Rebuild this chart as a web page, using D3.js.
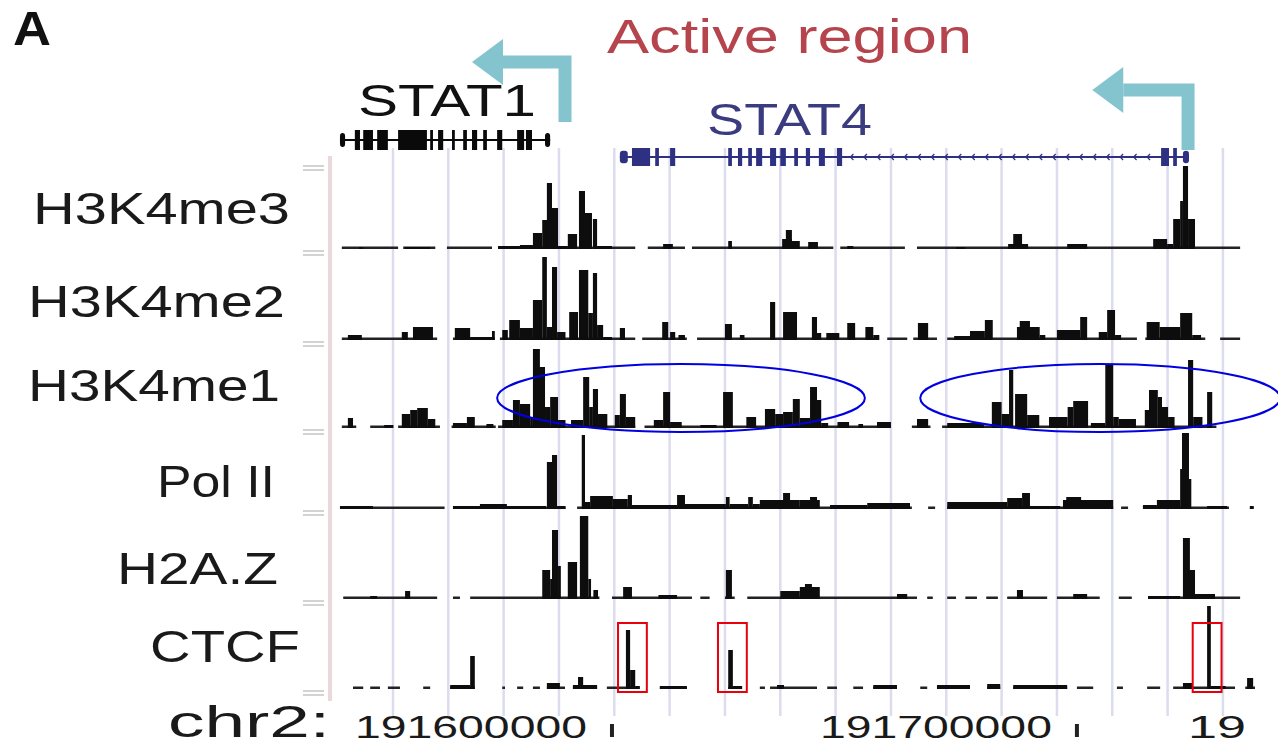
<!DOCTYPE html>
<html>
<head>
<meta charset="utf-8">
<script src="https://cdn.jsdelivr.net/npm/d3@7"></script>
<style>
  html, body { margin: 0; padding: 0; background: #fff; }
  svg { display: block; font-family: "Liberation Sans", Arial, Helvetica, sans-serif; }
</style>
</head>
<body>
<svg id="chart" width="1278" height="747"></svg>
<script>
// positions are kb past chr2:191,000,000

const trackNames = ["H3K4me3", "H3K4me2", "H3K4me1", "Pol II", "H2A.Z", "CTCF"];

// [start kb, end kb, signal]
const h3k4me3Bars = [
  [545.6,546.5,2],[555.5,560.9,2],[575.5,580.2,3],[580.2,583.0,4],[583.0,585.0,16],[585.0,586.2,29],
  [586.0,587.1,66],[587.1,588.4,41],[588.4,590.5,3],[590.5,592.5,15],[592.9,594.2,58],[594.2,595.7,36],
  [595.9,596.8,30],[596.8,600.0,3],[611.0,613.1,5],[625.0,625.8,8],[636.6,638.7,10],[637.4,638.7,19],
  [638.7,640.4,8],[642.2,644.3,7],[650.6,651.9,3],[674.0,676.0,2],[685.2,689.5,5],[686.3,688.2,15],
  [697.9,702.2,5],[716.4,719.4,10],[719.4,720.7,5],[720.7,722.2,30],[722.2,722.8,48],[722.8,723.9,83],
  [723.9,725.4,30]
];
const h3k4me2Bars = [
  [543.2,546.2,5],[554.8,556.1,8],[557.2,561.5,13],[566.2,569.5,12],[569.5,574.2,3],[574.2,574.8,9],
  [576.4,577.6,10],[577.9,580.2,20],[580.2,583.0,12],[583.0,585.0,40],[585.0,586.0,83],[586.0,587.1,13],
  [587.1,588.2,73],[588.2,590.0,8],[590.8,592.7,28],[592.9,594.9,70],[594.9,595.9,27],[595.9,596.8,67],
  [596.8,598.1,15],[598.1,600.0,3],[601.7,602.8,12],[610.8,612.1,18],[612.5,613.6,8],[614.3,615.7,5],
  [624.3,625.8,16],[627.5,628.5,5],[634.0,635.1,38],[636.8,639.8,28],[643.0,644.1,23],[644.1,645.0,7],
  [646.1,648.9,7],[650.6,652.3,17],[654.5,656.2,13],[656.2,657.5,5],[665.8,668.0,17],[673.6,677.0,4],
  [677.0,680.2,9],[680.2,681.9,20],[687.1,692.0,13],[687.7,689.9,19],[692.0,693.2,5],[695.7,700.7,10],
  [700.7,702.2,23],[704.7,706.5,8],[706.5,708.2,30],[708.2,709.5,5],[715.0,717.8,18],[717.8,722.2,13],
  [722.2,724.8,27],[724.8,726.7,5]
];
const h3k4me1Bars = [
  [543.2,544.3,10],[551.0,553.0,3],[554.8,556.6,14],[556.6,558.1,18],[558.1,560.4,20],[560.4,562.0,9],
  [565.8,568.8,5],[568.8,570.5,11],[573.0,574.5,4],[576.4,578.7,8],[578.7,580.2,28],[580.2,582.4,24],
  [582.4,583.0,10],[583.0,584.5,79],[584.1,585.6,61],[585.6,586.7,21],[586.7,588.4,31],[588.4,590.0,8],
  [591.2,593.8,8],[593.8,595.1,51],[595.1,595.9,21],[595.9,597.0,39],[597.0,599.0,14],[600.6,601.7,13],
  [601.7,603.0,34],[603.0,605.0,11],[609.0,611.0,8],[611.0,612.5,36],[612.5,615.0,6],[619.0,622.5,3],
  [623.9,626.0,36],[628.9,631.0,11],[632.9,635.1,19],[635.1,636.8,14],[636.8,638.9,16],[638.9,640.4,29],
  [640.4,642.6,10],[642.6,644.1,41],[644.1,645.0,28],[645.0,646.5,5],[648.5,651.0,6],[653.0,654.0,4],
  [657.0,660.0,6],[665.6,668.0,9],[672.1,680.0,5],[681.7,683.8,26],[683.8,685.4,14],[685.4,686.3,58],
  [686.7,689.3,34],[689.3,691.9,13],[694.0,698.0,11],[698.0,699.2,21],[699.2,702.4,27],[703.0,706.1,5],
  [706.1,707.8,64],[707.8,709.0,11],[709.0,712.7,9],[714.6,715.5,18],[715.5,717.4,38],[717.4,718.3,31],
  [718.3,719.6,21],[719.6,721.0,11],[723.9,725.0,68],[725.0,727.0,11],[728.0,729.1,36]
];
const polIIBars = [
  [541.5,548.6,3],[565.8,585.8,3],[571.6,577.4,5],[586.0,587.3,47],[587.1,588.2,54],[588.2,590.0,3],
  [593.5,594.2,74],[594.2,595.3,7],[595.3,600.2,13],[600.2,603.4,10],[603.4,604.3,14],[604.3,614.0,4],
  [614.0,615.7,14],[615.7,624.5,5],[624.5,625.3,12],[625.3,629.3,5],[629.3,630.3,12],[630.3,631.8,5],
  [631.8,640.4,9],[636.8,638.3,16],[640.4,644.7,9],[642.6,644.1,12],[646.9,654.9,4],[654.9,664.1,6],
  [672.1,685.0,7],[685.0,688.2,11],[688.2,689.9,16],[689.9,696.4,3],[697.0,707.8,9],[697.7,700.9,12],
  [714.2,717.2,4],[717.2,722.2,9],[722.2,722.6,40],[722.6,724.1,76],[724.1,724.6,30],[728.0,732.3,3],
  [737.2,738.0,3]
];
const h2azBars = [
  [548.0,549.5,3],[555.5,556.6,8],[585.0,586.7,29],[586.7,587.1,20],[587.1,588.4,69],[588.4,589.0,33],
  [590.5,592.5,37],[593.1,594.9,83],[594.9,595.5,20],[596.0,597.0,9],[602.4,604.3,12],[610.0,614.0,4],
  [624.5,625.8,29],[636.2,640.4,8],[640.4,644.7,12],[641.5,643.0,15],[661.3,663.5,5],[687.1,688.4,9],
  [699.2,702.2,5],[715.3,722.2,3],[722.8,724.3,61],[723.9,725.4,29],[725.4,729.7,5]
];
const ctcfBars = [
  [565.2,569.5,4],[569.5,570.5,33],[586.0,588.8,6],[591.6,596.8,4],[592.7,593.8,12],[603.0,603.9,59],
  [603.9,605.0,19],[605.0,606.0,3],[610.3,616.1,3],[625.0,626.0,39],[626.0,628.0,3],[635.5,637.0,4],
  [656.2,661.3,4],[669.9,677.0,4],[680.7,683.5,5],[686.3,697.9,4],[722.8,724.8,6],[728.0,728.8,83],
  [728.8,732.0,3],[736.6,737.9,11]
];

// low-signal baseline runs [start kb, end kb]
const h3k4me3Base = [[541.9,554.0],[555.1,562.0],[564.5,574.2],[575.5,605.0],[607.7,615.7],[617.2,647.6],[649.1,663.0],[665.6,735.1]];
const h3k4me2Base = [[541.9,562.4],[565.8,574.8],[575.9,605.0],[606.5,616.1],[618.3,657.2],[659.2,663.5],[664.8,669.9],[672.1,712.9],[714.7,727.6],[730.8,735.1]];
const h3k4me1Base = [[541.9,545.0],[548.0,552.5],[554.0,563.0],[565.5,575.0],[575.5,605.0],[607.0,660.0],[664.5,668.5],[671.0,730.0]];
const polIIBase = [[541.5,564.0],[566.0,590.0],[592.5,664.5],[668.0,669.5],[672.1,707.8],[709.5,711.0],[714.2,732.7],[737.2,738.0]];
const h2azBase = [[542.2,562.4],[565.8,567.3],[569.5,597.3],[600.0,617.2],[619.0,621.0],[624.3,626.4],[629.1,665.6],[667.8,669.0],[672.1,674.0],[676.0,678.5],[680.5,683.0],[685.0,693.6],[695.7,704.9],[709.0,711.8],[715.3,735.1]];
const ctcfBase = [[544.3,546.5],[548.0,550.1],[551.8,554.4],[559.4,560.9],[565.2,570.5],[576.4,577.0],[579.6,580.9],[583.0,584.5],[586.0,589.9],[591.6,596.8],[598.9,605.4],[610.3,616.1],[625.0,627.5],[631.8,632.9],[634.0,644.1],[646.3,648.4],[651.9,654.0],[656.2,661.3],[666.3,667.8],[669.9,677.0],[680.7,683.5],[686.3,697.9],[700.0,703.5],[708.6,709.9],[715.1,717.9],[720.7,734.0],[736.2,738.3]];

const trackBars = [h3k4me3Bars, h3k4me2Bars, h3k4me1Bars, polIIBars, h2azBars, ctcfBars];
const trackBase = [h3k4me3Base, h3k4me2Base, h3k4me1Base, polIIBase, h2azBase, ctcfBase];

// genes: exons [start kb, end kb]
const stat1Exons = [[541.5,542.6],[544.7,545.8],[546.5,548.6],[549.5,551.8],[554.0,560.2],[560.9,561.5],[562.6,563.7],[565.6,566.2],[568.0,568.8],[569.9,571.0],[572.3,573.1],[575.3,576.4],[579.6,581.1],[581.5,582.8],[585.6,586.7]];
const stat4Exons = [[601.7,603.4],[604.3,608.2],[609.3,610.1],[612.5,613.6],[625.0,625.8],[627.1,628.0],[629.3,630.1],[631.0,632.3],[634.0,635.3],[636.2,637.4],[639.2,640.0],[641.7,642.6],[644.5,645.8],[648.4,649.5],[718.1,719.8],[720.7,721.5],[722.8,724.1]];
const tssKb = [589.9, 723.9];     // STAT1, STAT4 transcription start (arrows point left)
const arrowTipKb = [569.9, 703.3];

const axisTicks = [191600000, 191700000];
const axisExtra = "19";

// annotations
const ctcfBoxes = [[601.3,607.5],[622.8,629.0],[724.9,731.1]];
const me1Ellipses = [[575.3,654.4],[666.3,743.7]];

// ---- layout ----
const rowBaseline = [249, 340, 428, 509, 599, 689];
const labelBox = [[33,290,224],[28,285,317],[28,280,401],[157,275,497],[117,278,584],[150,300,662]];

const svg = d3.select("#chart");
const x = d3.scaleLinear().domain([540, 738.3]).range([333, 1255]);
const trackY = base => d3.scaleLinear().domain([0, 85]).range([base, base - 85]);

// browser grid lines
const gridKb = d3.range(552.9, 732, 11.9);
svg.append("g").selectAll("line").data(gridKb).join("line")
  .attr("x1", d => x(d)).attr("x2", d => x(d))
  .attr("y1", 148).attr("y2", 716)
  .attr("stroke", "#dcdcef").attr("stroke-width", 2.5);

// pink left border
svg.append("rect").attr("x", 328).attr("y", 156).attr("width", 4).attr("height", 545).attr("fill", "#ecd7db");

// left "=" marks at each track floor
const marks = svg.append("g");
[166].concat(rowBaseline.map(b => b + 2)).forEach(yy => {
  [0, 4].forEach(o => {
    marks.append("line").attr("x1", 303).attr("x2", 324).attr("y1", yy + o).attr("y2", yy + o)
      .attr("stroke", "#c4c4c4").attr("stroke-width", 1.5);
  });
});

// signal tracks
trackNames.forEach((name, i) => {
  const y = trackY(rowBaseline[i]);
  const g = svg.append("g");
  g.selectAll(".base").data(trackBase[i]).join("rect")
    .attr("x", d => x(d[0])).attr("width", d => x(d[1]) - x(d[0]))
    .attr("y", y(0) - 2.5).attr("height", 2.5).attr("fill", "#222");
  g.selectAll(".bar").data(trackBars[i]).join("rect")
    .attr("x", d => x(d[0])).attr("width", d => Math.max(1.5, x(d[1]) - x(d[0])))
    .attr("y", d => y(d[2])).attr("height", d => y(0) - y(d[2]))
    .attr("fill", "#0d0d0d");

  const [x0, x1, by] = labelBox[i];
  svg.append("text").attr("x", x0).attr("y", by)
    .attr("font-size", 45).attr("fill", "#1a1a1a")
    .attr("textLength", x1 - x0).attr("lengthAdjust", "spacingAndGlyphs")
    .text(name);
});

// genes
function drawGene(exons, yc, color, tall, chevrons) {
  const g = svg.append("g");
  g.append("line").attr("x1", x(exons[0][0])).attr("x2", x(exons[exons.length - 1][1]))
    .attr("y1", yc).attr("y2", yc).attr("stroke", color).attr("stroke-width", 2);
  if (chevrons) {
    d3.range(chevrons[0], chevrons[1], 2.9).forEach(k => {
      g.append("path").attr("d", `M${x(k) + 2},${yc - 3} L${x(k) - 1},${yc} L${x(k) + 2},${yc + 3}`)
        .attr("fill", "none").attr("stroke", color).attr("stroke-width", 1.2);
    });
  }
  g.selectAll("rect").data(exons).join("rect")
    .attr("x", d => x(d[0])).attr("width", d => Math.max(2, x(d[1]) - x(d[0])))
    .attr("y", (d, j) => (j === 0 || j === exons.length - 1) ? yc - tall * 0.35 : yc - tall / 2)
    .attr("height", (d, j) => (j === 0 || j === exons.length - 1) ? tall * 0.7 : tall)
    .attr("rx", (d, j) => (j === 0 || j === exons.length - 1) ? 3 : 0)
    .attr("fill", color);
}
drawGene(stat1Exons, 140, "#0a0a0a", 20, null);
drawGene(stat4Exons, 157, "#2e3182", 18, [651.5, 717]);

// TSS arrows
const arrowY = [[122, 62], [150, 90]];
tssKb.forEach((k, i) => {
  const [yBot, yTop] = arrowY[i];
  const tip = x(arrowTipKb[i]);
  const back = tip + 31;
  svg.append("path").attr("d", `M${x(k)},${yBot} V${yTop} H${back}`)
    .attr("fill", "none").attr("stroke", "#84c4cf").attr("stroke-width", 13)
    .attr("stroke-linejoin", "miter");
  svg.append("path").attr("d", `M${tip},${yTop} L${back},${yTop - 23} L${back},${yTop + 23} Z`)
    .attr("fill", "#84c4cf");
});

// gene names and titles
svg.append("text").attr("x", 358).attr("y", 116).attr("font-size", 44).attr("fill", "#111")
  .attr("textLength", 178).attr("lengthAdjust", "spacingAndGlyphs").text("STAT1");
svg.append("text").attr("x", 707).attr("y", 135).attr("font-size", 44).attr("fill", "#3b3c80")
  .attr("textLength", 165).attr("lengthAdjust", "spacingAndGlyphs").text("STAT4");
svg.append("text").attr("x", 607).attr("y", 53).attr("font-size", 48).attr("fill", "#b5444d")
  .attr("textLength", 365).attr("lengthAdjust", "spacingAndGlyphs").text("Active region");
svg.append("text").attr("x", 13).attr("y", 45).attr("font-size", 48).attr("font-weight", "bold")
  .attr("fill", "#111").attr("textLength", 38).attr("lengthAdjust", "spacingAndGlyphs").text("A");

// position axis
svg.append("text").attr("x", 168).attr("y", 737).attr("font-size", 44).attr("fill", "#1a1a1a")
  .attr("textLength", 162).attr("lengthAdjust", "spacingAndGlyphs").text("chr2:");
axisTicks.forEach(bp => {
  const tx = x(bp / 1000 - 191000);
  svg.append("rect").attr("x", tx - 2).attr("y", 724).attr("width", 4).attr("height", 13).attr("fill", "#222");
  svg.append("text").attr("x", tx - 25).attr("y", 738).attr("text-anchor", "end")
    .attr("font-size", 32).attr("fill", "#1a1a1a")
    .attr("textLength", 232).attr("lengthAdjust", "spacingAndGlyphs").text(bp);
});
svg.append("text").attr("x", 1188).attr("y", 738).attr("font-size", 32).attr("fill", "#1a1a1a")
  .attr("textLength", 58).attr("lengthAdjust", "spacingAndGlyphs").text(axisExtra);

// highlight annotations
const yMe1 = trackY(rowBaseline[2]);
svg.append("g").selectAll("ellipse").data(me1Ellipses).join("ellipse")
  .attr("cx", d => (x(d[0]) + x(d[1])) / 2).attr("rx", d => (x(d[1]) - x(d[0])) / 2)
  .attr("cy", yMe1(30)).attr("ry", yMe1(-4) - yMe1(30))
  .attr("fill", "none").attr("stroke", "#0000e0").attr("stroke-width", 2);

const yCtcf = trackY(rowBaseline[5]);
svg.append("g").selectAll("rect").data(ctcfBoxes).join("rect")
  .attr("x", d => x(d[0])).attr("width", d => x(d[1]) - x(d[0]))
  .attr("y", yCtcf(66)).attr("height", yCtcf(-3) - yCtcf(66))
  .attr("fill", "none").attr("stroke", "#e8000b").attr("stroke-width", 2);
</script>
</body>
</html>
